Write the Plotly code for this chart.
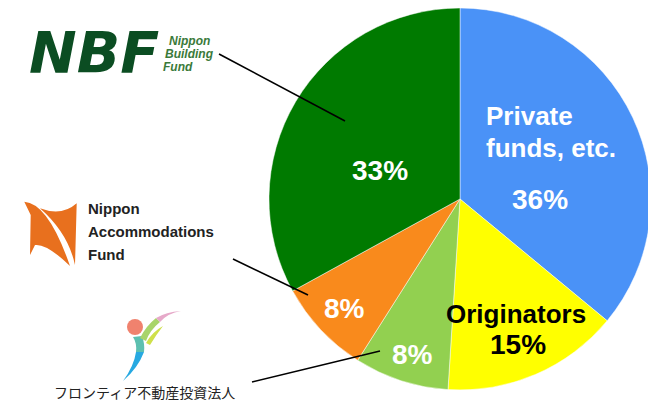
import plotly.graph_objects as go

# ---- data ----
categories = ["Private funds, etc.", "Originators", "Frontier Real Estate Investment", "Nippon Accommodations Fund", "Nippon Building Fund"]
shares = [36, 15, 8, 8, 33]
slice_colors = ["#4A92F7", "#FFFF00", "#92D050", "#F98A1C", "#007A00"]

W, H = 656, 404
OFF = 8  # page body margin: screen px = figure px + OFF
cx, cy, r = 460, 199, 191

fig = go.Figure()

# invisible helper axis in screen-pixel units for decorations
fig.add_trace(go.Scatter(x=[None], y=[None], mode="markers", hoverinfo="skip", showlegend=False))

fx, fy = cx - OFF, cy - OFF
fig.add_trace(go.Pie(
    values=shares, labels=categories, sort=False, direction="clockwise", rotation=0,
    marker=dict(colors=slice_colors, line=dict(color="rgba(255,255,255,0.6)", width=0.8)),
    textinfo="none", hoverinfo="label+percent", showlegend=False,
    domain=dict(x=[(fx - r) / W, (fx + r) / W], y=[max(0, 1 - (fy + r) / H), min(1, 1 - (fy - r) / H)]),
))

ann = []
def txt(x, y, s, size, color, family="Liberation Sans, Arial, sans-serif", bold=True, italic=False, xanchor="center"):
    if bold:
        s = "<b>" + s + "</b>"
    if italic:
        s = "<i>" + s + "</i>"
    ann.append(dict(x=x, y=y, xref="x", yref="y", text=s, showarrow=False, xanchor=xanchor, yanchor="middle",
                    font=dict(size=size, color=color, family=family)))

# slice labels
pct = [f"{v}%" for v in shares]
txt(484, 116, "Private", 26, "white", xanchor="left")
txt(484, 148, "funds, etc.", 26, "white", xanchor="left")
txt(540, 199, pct[0], 28, "white")
txt(516, 314, "Originators", 26, "black")
txt(518, 344, pct[1], 28, "black")
txt(412, 354, pct[2], 28, "white")
txt(344, 308, pct[3], 28, "white")
txt(380, 170, pct[4], 28, "white")

# NBF logo text
txt(27, 53, "NBF", 57, "#0B4D22", family="DejaVu Sans, sans-serif", italic=True, xanchor="left")
txt(167, 41, "Nippon", 12, "#3A7A3A", italic=True, xanchor="left")
txt(163, 54, "Building", 12, "#3A7A3A", italic=True, xanchor="left")
txt(161, 67, "Fund", 12, "#3A7A3A", italic=True, xanchor="left")

# Nippon Accommodations Fund logo text
naf_font = "Liberation Sans, Arial, sans-serif"
txt(86, 208, "Nippon", 15, "#222222", family=naf_font, xanchor="left")
txt(86, 231, "Accommodations", 15, "#222222", family=naf_font, xanchor="left")
txt(86, 254, "Fund", 15, "#222222", family=naf_font, xanchor="left")

# Frontier logo text
txt(144, 392, "フロンティア不動産投資法人", 14, "#222222", family="Noto Sans CJK JP, sans-serif", bold=False)

shapes = []
def path(d, color):
    shapes.append(dict(type="path", path=d, xref="x", yref="y", fillcolor=color, line=dict(width=0), layer="above"))

# NAF icon
path("M 24.3,201.7 Q 48.3,203.3 70,266 Q 46.7,243.3 35,245 L 30,255 L 30.7,215 Z", "#E8701E")
path("M 40,208.3 Q 61.7,216.7 76.7,203.3 L 75,265 Q 68.3,233.3 40,208.3 Z", "#E8701E")

# Frontier icon
shapes.append(dict(type="circle", xref="x", yref="y", x0=127, y0=319, x1=143, y1=335,
                   fillcolor="#F0826E", line=dict(width=0), layer="above"))
path("M 123,381 Q 134,366 136,352 L 144,352 Q 138,368 123,381 Z", "#27A9E1")
path("M 136,352 Q 137,343 133,337 L 142,336 Q 145,344 144,352 Z", "#5DC0B0")
path("M 140,338 Q 146,326 156,318 L 160,322 Q 150,330 146,341 Z", "#A8D46A")
path("M 156,318 Q 166,312 181,311 Q 168,313 160,322 Z", "#E6A9C9")
path("M 146,343 Q 152,332 163,326 Q 156,335 150,345 Z", "#CFE04A")

# leader lines
for (x0, y0, x1, y1) in [(219, 54, 345, 121), (233, 259, 308, 295), (252, 382, 380, 351)]:
    shapes.append(dict(type="line", xref="x", yref="y", x0=x0, y0=y0, x1=x1, y1=y1,
                       line=dict(color="black", width=1.6), layer="above"))

fig.update_layout(
    width=W, height=H, margin=dict(l=0, r=0, t=0, b=0),
    paper_bgcolor="white", plot_bgcolor="rgba(0,0,0,0)",
    xaxis=dict(range=[OFF, W + OFF], visible=False, fixedrange=True),
    yaxis=dict(range=[H + OFF, OFF], visible=False, fixedrange=True),
    annotations=ann, shapes=shapes, showlegend=False,
)

fig.write_html("out.html")
